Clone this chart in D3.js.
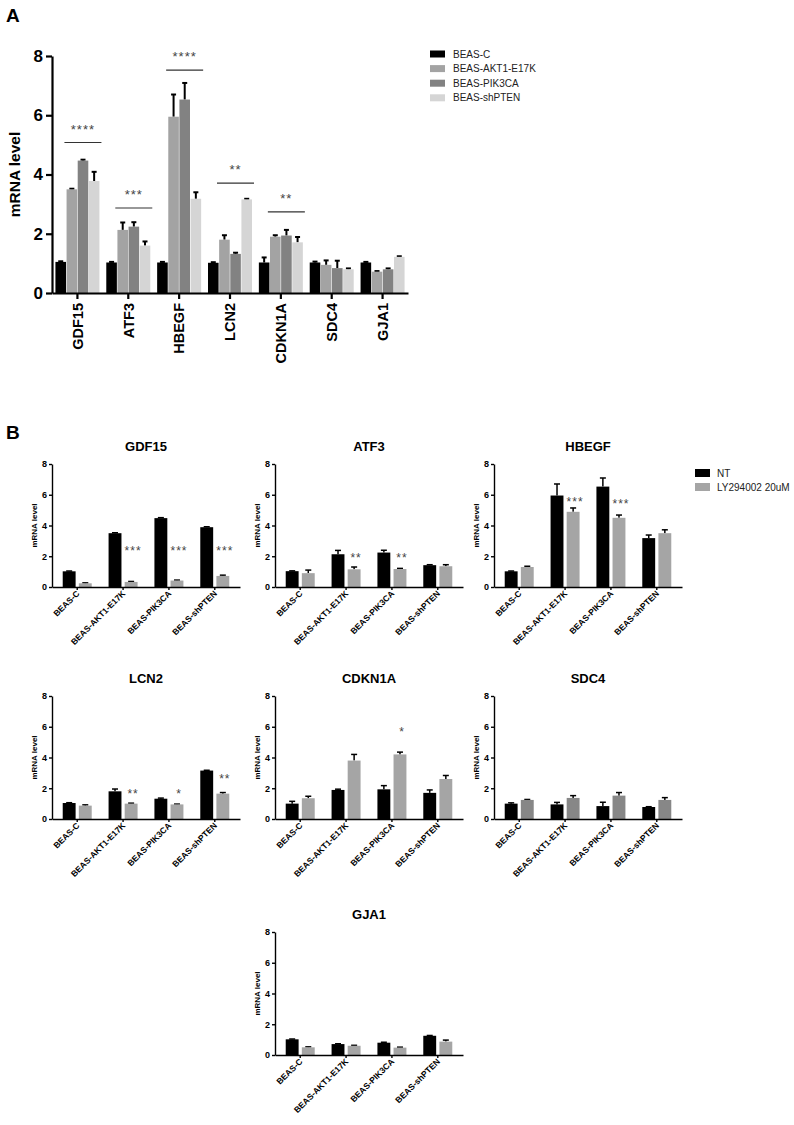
<!DOCTYPE html>
<html>
<head>
<meta charset="utf-8">
<script src="https://cdn.jsdelivr.net/npm/d3@7"></script>
<style>
  body { margin: 0; background: #fff; }
  svg { display: block; font-family: Arial, "Liberation Sans", sans-serif; }
</style>
</head>
<body>
<div class="chart-container"></div>
<script>
(function() {
  ////////////////////////////////////////////////////////////
  //// Data //////////////////////////////////////////////////
  ////////////////////////////////////////////////////////////
  const genes = ["GDF15", "ATF3", "HBEGF", "LCN2", "CDKN1A", "SDC4", "GJA1"];
  const cellLines = ["BEAS-C", "BEAS-AKT1-E17K", "BEAS-PIK3CA", "BEAS-shPTEN"];
  const yTicks = [0, 2, 4, 6, 8];

  // Panel A: one array per cell line, in gene order
  const aValuesC = [1.05, 1.03, 1.03, 1.02, 1.03, 1.03, 1.03];
  const aErrorsC = [0.02, 0.02, 0.02, 0.02, 0.17, 0.03, 0.02];
  const aValuesAkt = [3.5, 2.13, 5.95, 1.8, 1.9, 0.95, 0.72];
  const aErrorsAkt = [0.02, 0.25, 0.75, 0.15, 0.05, 0.15, 0.02];
  const aValuesPik = [4.47, 2.24, 6.53, 1.32, 1.94, 0.84, 0.8];
  const aErrorsPik = [0.03, 0.15, 0.56, 0.04, 0.19, 0.25, 0.03];
  const aValuesPten = [3.78, 1.6, 3.18, 3.16, 1.71, 0.8, 1.22];
  const aErrorsPten = [0.31, 0.14, 0.22, 0.02, 0.18, 0.03, 0.02];

  const aSigGenes = ["GDF15", "ATF3", "HBEGF", "LCN2", "CDKN1A"];
  const aSigLabels = ["****", "***", "****", "**", "**"];
  const aSigLevels = [5.08, 2.87, 7.52, 3.71, 2.74];

  // Panel B: rows in gene order, columns in cell line order
  const treatments = ["NT", "LY294002 20uM"];
  const ntValues = [
    [1.02, 3.5, 4.48, 3.89],
    [1.03, 2.13, 2.24, 1.42],
    [1.02, 5.95, 6.53, 3.18],
    [1.04, 1.8, 1.32, 3.15],
    [1.0, 1.89, 1.93, 1.7],
    [1.0, 0.95, 0.84, 0.78],
    [1.02, 0.71, 0.8, 1.25]
  ];
  const ntErrors = [
    [0.02, 0.03, 0.03, 0.03],
    [0.02, 0.25, 0.15, 0.03],
    [0.02, 0.75, 0.56, 0.2],
    [0.02, 0.15, 0.04, 0.02],
    [0.15, 0.05, 0.24, 0.19],
    [0.05, 0.13, 0.25, 0.02],
    [0.02, 0.02, 0.03, 0.02]
  ];
  const lyValues = [
    [0.24, 0.33, 0.42, 0.72],
    [0.9, 1.15, 1.17, 1.35],
    [1.3, 4.89, 4.5, 3.5],
    [0.87, 1.0, 0.95, 1.65],
    [1.35, 3.8, 4.2, 2.6],
    [1.24, 1.37, 1.52, 1.24],
    [0.5, 0.6, 0.48, 0.87]
  ];
  const lyErrors = [
    [0.03, 0.03, 0.03, 0.05],
    [0.2, 0.15, 0.04, 0.1],
    [0.05, 0.25, 0.18, 0.22],
    [0.05, 0.03, 0.02, 0.07],
    [0.13, 0.4, 0.15, 0.23],
    [0.03, 0.15, 0.2, 0.15],
    [0.03, 0.03, 0.03, 0.1]
  ];

  const bStarGenes = ["GDF15", "GDF15", "GDF15", "ATF3", "ATF3", "HBEGF", "HBEGF",
    "LCN2", "LCN2", "LCN2", "CDKN1A"];
  const bStarCells = ["BEAS-AKT1-E17K", "BEAS-PIK3CA", "BEAS-shPTEN", "BEAS-AKT1-E17K",
    "BEAS-PIK3CA", "BEAS-AKT1-E17K", "BEAS-PIK3CA", "BEAS-AKT1-E17K", "BEAS-PIK3CA",
    "BEAS-shPTEN", "BEAS-PIK3CA"];
  const bStarLabels = ["***", "***", "***", "**", "**", "***", "***", "**", "*", "**", "*"];
  const bStarLevels = [2.5, 2.5, 2.5, 2.05, 2.05, 5.7, 5.55, 1.8, 1.8, 2.75, 5.8];

  ////////////////////////////////////////////////////////////
  //// Setup /////////////////////////////////////////////////
  ////////////////////////////////////////////////////////////
  const chartWidth = 794;
  const chartHeight = 1125;
  const aColors = ["#000000", "#a3a3a3", "#828282", "#d5d5d5"];
  const bColors = ["#000000", "#a5a5a5"];
  const bColorOverride = { SDC4: "#878787" };

  const svg = d3
    .select(".chart-container")
    .append("svg")
    .attr("width", chartWidth)
    .attr("height", chartHeight)
    .attr("viewBox", [0, 0, chartWidth, chartHeight]);

  svg.append("text")
    .attr("x", 6).attr("y", 22)
    .attr("font-size", 19).attr("font-weight", "bold")
    .text("A");

  ////////////////////////////////////////////////////////////
  //// Panel A ///////////////////////////////////////////////
  ////////////////////////////////////////////////////////////
  const aBox = { left: 52, right: 408, top: 56, bottom: 293 };

  const xA = d3.scaleBand().domain(genes).range([aBox.left, aBox.right]);
  const xASub = d3.scaleBand().domain(cellLines).range([-22, 22]).paddingInner(0.05);
  const yA = d3.scaleLinear().domain([0, 8]).range([aBox.bottom, aBox.top]);
  const centerA = g => xA(g) + xA.bandwidth() / 2;

  const aSeries = [
    { name: cellLines[0], values: aValuesC, errors: aErrorsC },
    { name: cellLines[1], values: aValuesAkt, errors: aErrorsAkt },
    { name: cellLines[2], values: aValuesPik, errors: aErrorsPik },
    { name: cellLines[3], values: aValuesPten, errors: aErrorsPten }
  ];

  const gA = svg.append("g").attr("class", "panel-a");

  aSeries.forEach((s, si) => {
    const rows = genes.map((g, i) => ({ gene: g, v: s.values[i], e: s.errors[i] }));
    const mid = d => centerA(d.gene) + xASub(s.name) + xASub.bandwidth() / 2;
    const gs = gA.append("g").attr("class", "series");
    gs.selectAll("line.err")
      .data(rows)
      .join("line")
      .attr("class", "err")
      .attr("x1", mid)
      .attr("x2", mid)
      .attr("y1", d => yA(d.v))
      .attr("y2", d => yA(d.v + d.e))
      .attr("stroke", "#000")
      .attr("stroke-width", 2);
    gs.selectAll("line.cap")
      .data(rows)
      .join("line")
      .attr("class", "cap")
      .attr("x1", d => mid(d) - 2.5)
      .attr("x2", d => mid(d) + 2.5)
      .attr("y1", d => yA(d.v + d.e))
      .attr("y2", d => yA(d.v + d.e))
      .attr("stroke", "#000")
      .attr("stroke-width", 2);
    gs.selectAll("rect")
      .data(rows)
      .join("rect")
      .attr("x", d => centerA(d.gene) + xASub(s.name))
      .attr("width", xASub.bandwidth())
      .attr("y", d => yA(d.v))
      .attr("height", d => yA(0) - yA(d.v))
      .attr("fill", aColors[si]);
  });

  // significance bars
  const aSig = aSigGenes.map((g, i) => ({ gene: g, label: aSigLabels[i], level: aSigLevels[i] }));
  gA.append("g")
    .selectAll("line")
    .data(aSig)
    .join("line")
    .attr("x1", d => centerA(d.gene) - 13)
    .attr("x2", d => centerA(d.gene) + 24)
    .attr("y1", d => yA(d.level))
    .attr("y2", d => yA(d.level))
    .attr("stroke", "#333")
    .attr("stroke-width", 1.2);
  gA.append("g")
    .selectAll("text")
    .data(aSig)
    .join("text")
    .attr("x", d => centerA(d.gene) + 5.5)
    .attr("y", d => yA(d.level) - 9)
    .attr("text-anchor", "middle")
    .attr("font-size", 13)
    .attr("letter-spacing", 1)
    .attr("fill", "#444")
    .text(d => d.label);

  gA.append("g")
    .attr("transform", `translate(${aBox.left},0)`)
    .call(d3.axisLeft(yA).tickValues(yTicks).tickSize(6).tickSizeOuter(0).tickPadding(3))
    .call(g => g.selectAll("path,line").attr("stroke-width", 2.2))
    .call(g => g.selectAll("text").attr("font-size", 17).attr("font-weight", "bold")
      .attr("font-family", "Arial, Liberation Sans"));

  gA.append("g")
    .attr("transform", `translate(0,${aBox.bottom})`)
    .call(d3.axisBottom(xA).tickSize(6).tickSizeOuter(0))
    .call(g => g.selectAll("path,line").attr("stroke-width", 2.2))
    .call(g => g.selectAll("text")
      .attr("font-size", 14.5).attr("font-weight", "bold")
      .attr("font-family", "Arial, Liberation Sans")
      .attr("transform", "rotate(-90)")
      .attr("text-anchor", "end")
      .attr("x", -10).attr("y", 0).attr("dy", "0.36em"));

  gA.append("text")
    .attr("transform", `translate(20,${(aBox.top + aBox.bottom) / 2}) rotate(-90)`)
    .attr("text-anchor", "middle")
    .attr("font-size", 15.5)
    .attr("font-weight", "bold")
    .text("mRNA level");

  // legend A
  const legA = gA.append("g").attr("transform", "translate(430,54)");
  legA.selectAll("rect")
    .data(cellLines)
    .join("rect")
    .attr("x", 0)
    .attr("y", (d, i) => i * 14.6 - 3.5)
    .attr("width", 15)
    .attr("height", 7)
    .attr("fill", (d, i) => aColors[i]);
  legA.selectAll("text")
    .data(cellLines)
    .join("text")
    .attr("x", 23)
    .attr("y", (d, i) => i * 14.6)
    .attr("dy", "0.35em")
    .attr("font-size", 10)
    .attr("fill", "#222")
    .text(d => d);

  ////////////////////////////////////////////////////////////
  //// Panel B ///////////////////////////////////////////////
  ////////////////////////////////////////////////////////////
  svg.append("text")
    .attr("x", 6).attr("y", 439)
    .attr("font-size", 19).attr("font-weight", "bold")
    .text("B");

  const colX = [52, 275, 494];
  const rowTop = [464, 696, 932];
  const panelW = 188;
  const panelH = 123;
  const panelPos = {
    GDF15: [0, 0], ATF3: [1, 0], HBEGF: [2, 0],
    LCN2: [0, 1], CDKN1A: [1, 1], SDC4: [2, 1],
    GJA1: [1, 2]
  };

  const xB = d3.scaleBand().domain(cellLines).range([0, panelW]).paddingOuter(0.05);
  const xBSub = d3.scaleBand().domain(treatments).range([-14.5, 14.5]).paddingInner(0.2);
  const yB = d3.scaleLinear().domain([0, 8]).range([panelH, 0]);
  const centerB = c => xB(c) + xB.bandwidth() / 2;

  genes.forEach((gene, gi) => {
    const [cx, cy] = panelPos[gene];
    const g = svg.append("g")
      .attr("class", "panel-b")
      .attr("transform", `translate(${colX[cx]},${rowTop[cy]})`);

    const series = [
      { name: treatments[0], values: ntValues[gi], errors: ntErrors[gi], color: bColors[0] },
      { name: treatments[1], values: lyValues[gi], errors: lyErrors[gi],
        color: bColorOverride[gene] || bColors[1] }
    ];

    series.forEach(s => {
      const rows = cellLines.map((c, i) => ({ cell: c, v: s.values[i], e: s.errors[i] }));
      const mid = d => centerB(d.cell) + xBSub(s.name) + xBSub.bandwidth() / 2;
      g.append("g").selectAll("line")
        .data(rows)
        .join("line")
        .attr("x1", mid).attr("x2", mid)
        .attr("y1", d => yB(d.v))
        .attr("y2", d => yB(d.v + d.e))
        .attr("stroke", "#000")
        .attr("stroke-width", 1.5);
      g.append("g").selectAll("line")
        .data(rows)
        .join("line")
        .attr("x1", d => mid(d) - 3).attr("x2", d => mid(d) + 3)
        .attr("y1", d => yB(d.v + d.e))
        .attr("y2", d => yB(d.v + d.e))
        .attr("stroke", "#000")
        .attr("stroke-width", 1.5);
      g.append("g").selectAll("rect")
        .data(rows)
        .join("rect")
        .attr("x", d => centerB(d.cell) + xBSub(s.name))
        .attr("width", xBSub.bandwidth())
        .attr("y", d => yB(d.v))
        .attr("height", d => yB(0) - yB(d.v))
        .attr("fill", s.color);
    });

    // stars
    const stars = bStarGenes
      .map((sg, i) => ({ gene: sg, cell: bStarCells[i], label: bStarLabels[i], level: bStarLevels[i] }))
      .filter(d => d.gene === gene);
    g.append("g").selectAll("text")
      .data(stars)
      .join("text")
      .attr("x", d => centerB(d.cell) + xBSub(treatments[1]) + xBSub.bandwidth() / 2 + 2)
      .attr("y", d => yB(d.level))
      .attr("dy", "0.55em")
      .attr("text-anchor", "middle")
      .attr("font-size", 12)
      .attr("letter-spacing", 1)
      .attr("fill", "#444")
      .text(d => d.label);

    g.append("g")
      .call(d3.axisLeft(yB).tickValues(yTicks).tickSize(3).tickSizeOuter(0).tickPadding(2))
      .call(a => a.selectAll("path,line").attr("stroke-width", 1.4))
      .call(a => a.selectAll("text").attr("font-size", 9).attr("font-weight", "bold")
        .attr("font-family", "Arial, Liberation Sans"));

    g.append("g")
      .attr("transform", `translate(0,${panelH})`)
      .call(d3.axisBottom(xB).tickSize(3).tickSizeOuter(0))
      .call(a => a.selectAll("path,line").attr("stroke-width", 1.4))
      .call(a => a.selectAll("text")
        .attr("font-size", 8.5).attr("font-weight", "bold")
        .attr("font-family", "Arial, Liberation Sans")
        .attr("text-anchor", "end")
        .attr("transform", "rotate(-45)")
        .attr("x", -3).attr("y", 4).attr("dy", "0.35em"));

    g.append("text")
      .attr("transform", `translate(-15,${panelH / 2}) rotate(-90)`)
      .attr("text-anchor", "middle")
      .attr("font-size", 8)
      .attr("font-weight", "bold")
      .text("mRNA level");

    g.append("text")
      .attr("x", panelW / 2)
      .attr("y", -18)
      .attr("dy", "0.35em")
      .attr("text-anchor", "middle")
      .attr("font-size", 13)
      .attr("font-weight", "bold")
      .text(gene);
  });

  // legend B
  const legB = svg.append("g").attr("transform", "translate(695,473)");
  legB.selectAll("rect")
    .data(treatments)
    .join("rect")
    .attr("x", 0)
    .attr("y", (d, i) => i * 14 - 4)
    .attr("width", 15)
    .attr("height", 8)
    .attr("fill", (d, i) => bColors[i]);
  legB.selectAll("text")
    .data(treatments)
    .join("text")
    .attr("x", 22)
    .attr("y", (d, i) => i * 14)
    .attr("dy", "0.35em")
    .attr("font-size", 10)
    .attr("fill", "#222")
    .text(d => d);
})();
</script>
</body>
</html>
